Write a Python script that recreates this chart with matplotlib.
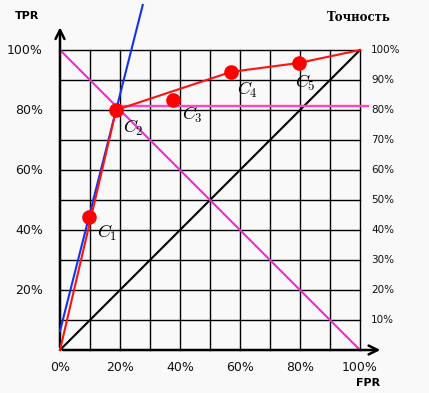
import matplotlib.pyplot as plt
import numpy as np

plt.rcParams['mathtext.fontset'] = 'cm'

# classifiers in ROC space (FPR, TPR)
names = ['$C_1$', '$C_2$', '$C_3$', '$C_4$', '$C_5$']
fpr = [0.097, 0.187, 0.377, 0.57, 0.797]
tpr = [0.443, 0.80, 0.833, 0.927, 0.957]
hull = [1, 3, 4]                 # indices of points on the convex hull
left_ticks = [0.2, 0.4, 0.6, 0.8, 1.0]
bottom_ticks = [0.0, 0.2, 0.4, 0.6, 0.8, 1.0]
acc_ticks = [0.1, 0.2, 0.3, 0.4, 0.5, 0.6, 0.7, 0.8, 0.9, 1.0]
iso_slope = 3.94                 # iso-accuracy line through C2
iso_top = 1.15
acc_level = 0.812                # horizontal accuracy line

fig = plt.figure(figsize=(4.29, 3.93), dpi=100, facecolor='#f9f9f9')
ax = fig.add_axes([0, 0, 1, 1])
ax.set_facecolor('#f9f9f9')
ax.set_xlim(-0.2, 1.23)
ax.set_ylim(-0.1433, 1.1667)
ax.axis('off')

# grid
for g in np.arange(0.1, 1.01, 0.1):
    ax.plot([g, g], [0, 1], color='black', lw=1.0, zorder=1)
    ax.plot([0, 1], [g, g], color='black', lw=1.0, zorder=1)

# axes with arrows
ax.annotate('', xy=(0, 1.085), xytext=(0, 0),
            arrowprops=dict(arrowstyle='->', lw=1.8, color='black', mutation_scale=16))
ax.annotate('', xy=(1.077, 0), xytext=(0, 0),
            arrowprops=dict(arrowstyle='->', lw=1.8, color='black', mutation_scale=16))

# diagonal
ax.plot([0, 1], [0, 1], color='black', lw=1.5, zorder=2)
# accuracy lines
ax.plot([0, 1], [1, 0], color='#ff22dd', lw=1.5, zorder=2)
ax.plot([fpr[1], 1.027], [acc_level, acc_level], color='#ff44cc', lw=1.7, zorder=2)

# iso-accuracy line
b = tpr[1] - iso_slope * fpr[1]
x_end = (iso_top - b) / iso_slope
ax.plot([0, x_end], [b, iso_top], color='#1133ee', lw=1.5, zorder=3)

# convex hull
hx = [0] + [fpr[i] for i in hull] + [1]
hy = [0] + [tpr[i] for i in hull] + [1]
ax.plot(hx, hy, color='#ff1111', lw=1.5, zorder=3)

# classifiers
ax.plot(fpr, tpr, 'o', color='#ff0000', ms=9.5, zorder=4)
offsets = [(0.027, -0.053), (0.023, -0.06), (0.03, -0.05), (0.02, -0.06), (-0.013, -0.067)]
for n, x, y, (dx, dy) in zip(names, fpr, tpr, offsets):
    ax.text(x + dx, y + dy, n, fontsize=13, ha='left', va='center', zorder=5)

# tick labels
for t in left_ticks:
    ax.text(-0.057, t, f'{t*100:.0f}%', fontsize=9, ha='right', va='center',
            color='#111111')
for t in bottom_ticks:
    ax.text(t, -0.057, f'{t*100:.0f}%', fontsize=9, ha='center', va='center',
            color='#111111')
for t in acc_ticks:
    ax.text(1.037, t, f'{t*100:.0f}%', fontsize=7.5, ha='left', va='center',
            color='#111111')

ax.text(-0.11, 1.113, 'TPR', fontsize=8, fontweight='bold', ha='center', va='center')
ax.text(1.027, -0.11, 'FPR', fontsize=8, fontweight='bold', ha='center', va='center')
ax.text(0.997, 1.107, 'Точность', fontsize=8.5, fontweight='bold', family='DejaVu Serif',
        ha='center', va='center')

fig.savefig('out.png', dpi=100, facecolor=fig.get_facecolor())
